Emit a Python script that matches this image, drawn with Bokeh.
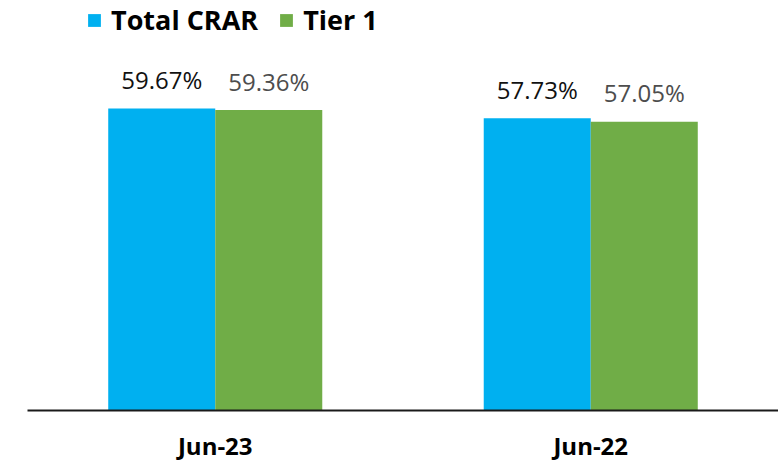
from bokeh.plotting import figure
from bokeh.models import ColumnDataSource, FactorRange, Range1d, Legend, LegendItem
from bokeh.transform import dodge
from bokeh.embed import file_html
from bokeh.resources import INLINE

categories = ["Jun-23", "Jun-22"]
total_crar = [59.67, 57.73]
tier1 = [59.36, 57.05]
series_names = ["Total CRAR", "Tier 1"]

src = ColumnDataSource(dict(
    cat=categories,
    total=total_crar,
    tier=tier1,
    total_lbl=[f"{v:.2f}%" for v in total_crar],
    tier_lbl=[f"{v:.2f}%" for v in tier1],
))

p = figure(width=778, height=465, x_range=FactorRange(*categories, range_padding=0),
           y_range=Range1d(0, 81.0), output_backend="svg", toolbar_location=None,
           min_border_left=27, min_border_right=0, min_border_top=0, min_border_bottom=55)
p.outline_line_color = None
p.background_fill_color = "white"
p.border_fill_color = "white"
p.xgrid.visible = False
p.ygrid.visible = False
p.yaxis.visible = False

bw = 0.285
off = bw / 2
r1 = p.vbar(x=dodge("cat", -off, range=p.x_range), top="total", width=bw, source=src,
            fill_color="#00B0F0", line_color=None)
r2 = p.vbar(x=dodge("cat", off, range=p.x_range), top="tier", width=bw, source=src,
            fill_color="#70AD47", line_color=None)

p.text(x=dodge("cat", -off, range=p.x_range), y="total", text="total_lbl", source=src,
       text_align="center", text_baseline="alphabetic", y_offset=-29,
       text_font={"value": "Open Sans"}, text_font_size="24px", text_color="#111111")
p.text(x=dodge("cat", off, range=p.x_range), y="tier", text="tier_lbl", source=src,
       text_align="center", text_baseline="alphabetic", y_offset=-29,
       text_font={"value": "Open Sans"}, text_font_size="24px", text_color="#4d4d4d")

ax = p.xaxis[0]
ax.axis_line_color = "#1a1a1a"
ax.axis_line_width = 2
ax.major_tick_line_color = None
ax.minor_tick_line_color = None
ax.major_label_text_font = "Open Sans"
ax.major_label_text_font_style = "bold"
ax.major_label_text_font_size = "24px"
ax.major_label_text_color = "#000000"
ax.major_label_standoff = 12

legend = Legend(items=[LegendItem(label=series_names[0], renderers=[r1]),
                       LegendItem(label=series_names[1], renderers=[r2])],
                orientation="horizontal", location=(59, 372),
                glyph_width=16, glyph_height=16, label_standoff=9, spacing=20,
                padding=0, margin=0, border_line_color=None, background_fill_alpha=0,
                label_text_font="Open Sans", label_text_font_style="bold",
                label_text_font_size="27px", label_text_color="#000000")
p.add_layout(legend, "center")

open("out.html", "w").write(file_html(p, INLINE))
